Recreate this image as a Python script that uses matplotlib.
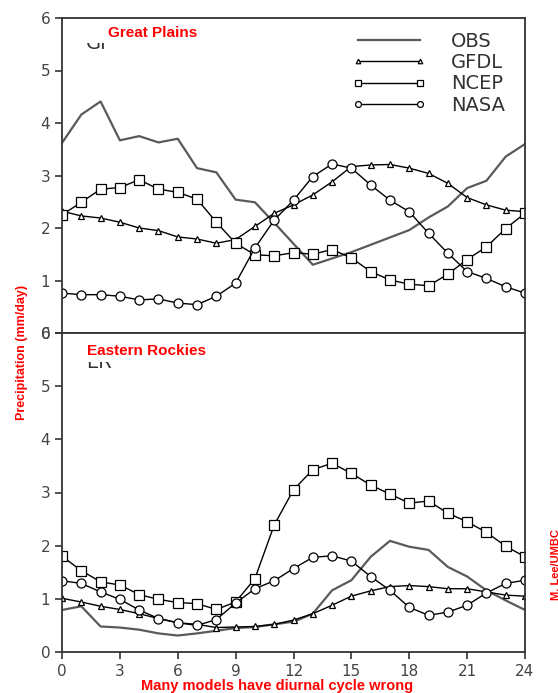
import matplotlib
matplotlib.use("Agg")
import matplotlib.pyplot as plt
from matplotlib.patches import Rectangle

hours = list(range(25))
xticks = [0, 3, 6, 9, 12, 15, 18, 21, 24]
yticks = [0, 1, 2, 3, 4, 5, 6]
series_names = ["OBS", "GFDL", "NCEP", "NASA"]

# Great Plains
gp_obs = [3.62, 4.16, 4.41, 3.67, 3.75, 3.63, 3.70, 3.14, 3.06, 2.54, 2.49, 2.10, 1.70,
          1.30, 1.42, 1.54, 1.68, 1.82, 1.96, 2.20, 2.41, 2.76, 2.90, 3.36, 3.60]
gp_gfdl = [2.32, 2.23, 2.19, 2.11, 2.00, 1.95, 1.83, 1.79, 1.71, 1.78, 2.03, 2.28, 2.44,
           2.63, 2.88, 3.17, 3.20, 3.21, 3.14, 3.04, 2.85, 2.58, 2.44, 2.34, 2.31]
gp_ncep = [2.25, 2.49, 2.74, 2.77, 2.92, 2.74, 2.68, 2.55, 2.11, 1.71, 1.49, 1.47, 1.53,
           1.50, 1.59, 1.43, 1.17, 1.01, 0.93, 0.90, 1.12, 1.40, 1.64, 1.99, 2.28]
gp_nasa = [0.76, 0.73, 0.73, 0.70, 0.63, 0.65, 0.57, 0.54, 0.70, 0.95, 1.62, 2.15, 2.53,
           2.98, 3.22, 3.14, 2.82, 2.53, 2.31, 1.90, 1.52, 1.17, 1.04, 0.88, 0.76]

# Eastern Rockies
er_obs = [0.79, 0.86, 0.48, 0.46, 0.42, 0.35, 0.31, 0.35, 0.40, 0.45, 0.47, 0.52, 0.57,
          0.72, 1.16, 1.35, 1.79, 2.09, 1.98, 1.92, 1.60, 1.42, 1.16, 0.97, 0.79]
er_gfdl = [1.01, 0.94, 0.86, 0.80, 0.72, 0.63, 0.55, 0.52, 0.46, 0.47, 0.48, 0.52, 0.60,
           0.72, 0.88, 1.05, 1.15, 1.23, 1.25, 1.23, 1.19, 1.19, 1.13, 1.07, 1.05]
er_ncep = [1.80, 1.53, 1.32, 1.26, 1.08, 0.99, 0.93, 0.91, 0.80, 0.94, 1.38, 2.39, 3.05,
           3.43, 3.55, 3.36, 3.14, 2.97, 2.80, 2.84, 2.61, 2.45, 2.25, 1.99, 1.79]
er_nasa = [1.34, 1.29, 1.13, 0.99, 0.79, 0.63, 0.55, 0.50, 0.61, 0.92, 1.19, 1.34, 1.57,
           1.78, 1.81, 1.71, 1.42, 1.16, 0.84, 0.69, 0.75, 0.88, 1.11, 1.29, 1.35]

W, H = 558, 693
fig = plt.figure(figsize=(5.58, 6.93), dpi=100)
L, R = 62 / W, 525 / W
ax1 = fig.add_axes([L, 1 - 333 / H, R - L, (333 - 18) / H])
ax2 = fig.add_axes([L, 1 - 652 / H, R - L, (652 - 333) / H])

axcol = "#333333"
tcol = "#444444"


def draw(ax, obs, gfdl, ncep, nasa):
    ax.plot(hours, obs, color="#5a5a5a", lw=1.6, label=series_names[0])
    mk = dict(color="black", lw=1.0, markerfacecolor="white", markeredgecolor="black",
              markeredgewidth=0.9)
    ax.plot(hours, gfdl, marker="^", ms=5, label=series_names[1], **mk)
    ax.plot(hours, ncep, marker="s", ms=6.5, label=series_names[2], **mk)
    ax.plot(hours, nasa, marker="o", ms=6.5, label=series_names[3], **mk)
    ax.set_xlim(0, 24)
    ax.set_ylim(0, 6)
    ax.set_yticks(yticks)
    ax.set_xticks(xticks)
    for s in ax.spines.values():
        s.set_color(axcol)
        s.set_linewidth(1.3)
    ax.tick_params(direction="out", length=5, width=1.2, color=axcol,
                   labelcolor=tcol, labelsize=11)


draw(ax1, gp_obs, gp_gfdl, gp_ncep, gp_nasa)
draw(ax2, er_obs, er_gfdl, er_ncep, er_nasa)
ax1.tick_params(axis="x", bottom=False, labelbottom=False)

leg = ax1.legend(loc="upper right", bbox_to_anchor=(0.995, 1.012), frameon=False,
                 numpoints=2, markerscale=0.65, handlelength=3.8, handletextpad=1.3,
                 labelspacing=0.12, fontsize=14)
for t in leg.get_texts():
    t.set_color("#333333")


# remnants of the original panel labels, mostly covered
def remnant(txt, x_px, base_px, cover_top_px, cover_bot_px, x0, x1):
    fig.text(x_px / W, 1 - base_px / H, txt, fontsize=14,
             color="#333333", ha="left", va="baseline", zorder=5)
    fig.patches.append(Rectangle((x0 / W, 1 - cover_bot_px / H), (x1 - x0) / W,
                                 (cover_bot_px - cover_top_px) / H,
                                 transform=fig.transFigure, facecolor="white",
                                 edgecolor="none", zorder=10))


red = "#ff0000"
lbl = dict(color=red, fontweight="bold", family=["Liberation Sans", "DejaVu Sans"])

remnant("GP", 86, 49, 24, 43, 80, 205)
remnant("ER", 86, 368, 343, 362, 80, 212)

fig.text(108 / W, 1 - 33 / H, "Great Plains", fontsize=11, ha="left", va="center",
         zorder=20, **lbl)
fig.text(87 / W, 1 - 351 / H, "Eastern Rockies", fontsize=11, ha="left", va="center",
         zorder=20, **lbl)

fig.text(22 / W, 1 - 352 / H, "Precipitation (mm/day)", rotation=90, ha="center",
         va="center", fontsize=9, **lbl)
fig.text(277 / W, 1 - 686 / H, "Many models have diurnal cycle wrong", ha="center",
         va="center", fontsize=10.5, **lbl)
fig.text(556 / W, 1 - 565 / H, "M. Lee/UMBC", rotation=90, ha="center", va="center",
         fontsize=8, **lbl)

fig.savefig("out.png", dpi=100)
